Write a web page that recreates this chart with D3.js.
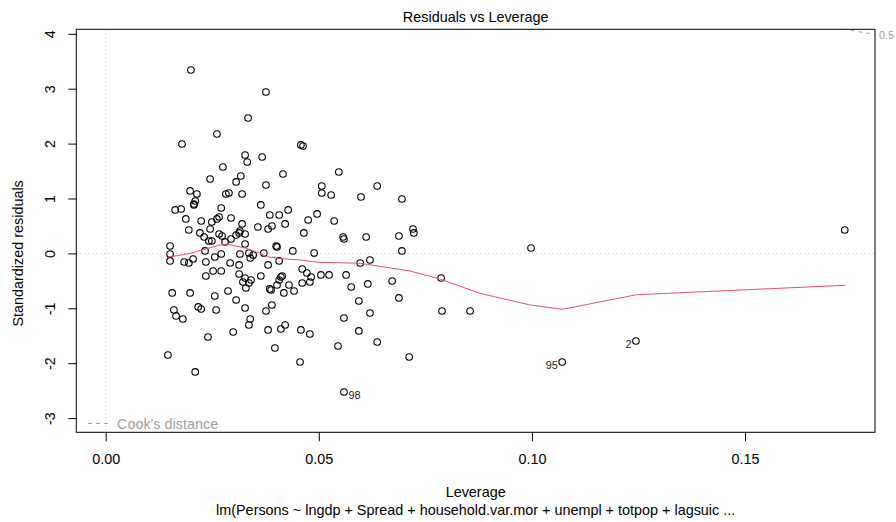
<!DOCTYPE html>
<html>
<head>
<meta charset="utf-8">
<script src="https://cdn.jsdelivr.net/npm/d3@7"></script>
<style>
  body { margin: 0; background: #fff; }
  svg text { font-family: "Liberation Sans", Arial, sans-serif; }
</style>
</head>
<body>
<svg id="chart"></svg>
<script>
// leverage / standardized residuals (first three are the labelled ones)
const idLabels = ["98", "95", "2"];
const leverage = [
  0.0559, 0.1071, 0.1244,
  0.0200, 0.0261, 0.0179, 0.0327, 0.0332, 0.0275, 0.0317, 0.0306, 0.0245, 0.0198, 0.0214, 0.0210, 0.0207, 0.0282, 0.0289, 0.0320,
  0.0376, 0.0334, 0.0458, 0.0463, 0.0367, 0.0416, 0.0547, 0.0376, 0.0507, 0.0507, 0.0529, 0.0637, 0.0599, 0.0695,
  0.0163, 0.0177, 0.0207, 0.0271, 0.0188, 0.0224, 0.0249, 0.0266, 0.0261, 0.0294, 0.0195, 0.0221, 0.0231, 0.0245, 0.0320, 0.0266, 0.0273, 0.0242, 0.0249, 0.0294,
  0.0313, 0.0315, 0.0327, 0.0280, 0.0151, 0.0233, 0.0306, 0.0327,
  0.0364, 0.0385, 0.0407, 0.0428, 0.0357, 0.0381, 0.0390, 0.0421, 0.0400, 0.0402, 0.0439, 0.0371, 0.0496, 0.0475, 0.0536, 0.0465, 0.0489, 0.0557, 0.0559, 0.0611,
  0.0688, 0.0721, 0.0723, 0.0695, 0.0998,
  0.0151, 0.0151, 0.0184, 0.0195, 0.0205, 0.0235, 0.0256, 0.0271, 0.0292, 0.0315, 0.0336, 0.0339, 0.0346, 0.0313, 0.0252, 0.0271, 0.0235, 0.0313, 0.0327, 0.0341,
  0.0336, 0.0322, 0.0329, 0.0156, 0.0198, 0.0287, 0.0256, 0.0306, 0.0217, 0.0224, 0.0259, 0.0327, 0.0160, 0.0165, 0.0181, 0.0339, 0.0336, 0.0299, 0.0240, 0.0146,
  0.0210,
  0.0381, 0.0407, 0.0364, 0.0385, 0.0388, 0.0402, 0.0411, 0.0407, 0.0414, 0.0418, 0.0442, 0.0430, 0.0390, 0.0376, 0.0381, 0.0411, 0.0421, 0.0397, 0.0456, 0.0458,
  0.0479, 0.0461, 0.0472, 0.0482, 0.0461, 0.0479, 0.0505, 0.0524, 0.0564, 0.0597, 0.0620, 0.0576, 0.0615, 0.0672, 0.0787, 0.0594, 0.0688, 0.0789, 0.0855, 0.0620,
  0.0559, 0.0594, 0.0545, 0.0637, 0.0712, 0.1734
];
const stdResid = [
  -2.525, -1.978, -1.596,
  3.341, 2.175, 1.993, 1.792, 1.665, 1.574, 1.410, 1.301, 1.355, 1.137, 1.082, 0.954, 0.882, 1.082, 1.100, 1.082,
  2.940, 2.466, 1.975, 1.956, 1.756, 1.446, 1.483, 1.246, 1.228, 1.100, 1.064, 1.228, 1.027, 0.991,
  0.791, 0.809, 0.900, 0.827, 0.627, 0.590, 0.572, 0.663, 0.627, 0.645, 0.426, 0.372, 0.299, 0.444, 0.536, 0.353, 0.317, 0.226, 0.226, 0.262,
  0.372, 0.408, 0.171, 0.208, 0.135, 0.044, 0.335, 0.353,
  0.882, 0.699, 0.699, 0.791, 0.481, 0.444, 0.499, 0.536, 0.135, 0.117, 0.044, 0.007, 0.718, 0.608, 0.590, 0.372, 0.007, 0.299, 0.262, 0.299,
  0.317, 0.444, 0.372, 0.044, 0.098,
  -0.011, -0.138, -0.157, -0.175, -0.102, -0.157, -0.066, -0.011, -0.175, -0.011, 0.007, -0.084, -0.029, -0.211, -0.321, -0.321, -0.412, -0.375, -0.448, -0.485,
  -0.539, -0.521, -0.630, -0.721, -0.721, -0.685, -0.776, -0.849, -0.976, -1.013, -1.031, -0.995, -1.031, -1.140, -1.195, -1.195, -1.304, -1.432, -1.523, -1.851,
  -2.160,
  -0.211, -0.138, -0.412, -0.648, -0.667, -0.576, -0.430, -0.485, -0.412, -0.721, -0.685, -0.576, -0.940, -1.049, -1.395, -1.377, -1.304, -1.723, -1.978, -1.395,
  -1.468, -0.284, -0.357, -0.430, -0.539, -0.521, -0.393, -0.393, -0.393, -0.175, -0.120, -0.612, -0.557, -0.503, -0.448, -0.867, -0.812, -1.049, -1.049, -1.086,
  -1.177, -1.413, -1.687, -1.614, -1.887, 0.426
];

// red smoother
const smoothLev = [0.0146, 0.0198, 0.0268, 0.0285, 0.0327, 0.0362, 0.0378, 0.0409, 0.0456, 0.0498, 0.0597, 0.0714, 0.0784, 0.0878, 0.0996, 0.1072, 0.1246, 0.1736];
const smoothRes = [-0.071, 0.000, 0.153, 0.166, 0.098, 0.002, -0.060, -0.093, -0.120, -0.162, -0.180, -0.321, -0.466, -0.727, -0.940, -1.018, -0.752, -0.581];

// cook's distance 0.5 contour (top right corner)
const cookLev = [0.1729, 0.1765, 0.1805];
const cookRes = [4.10, 4.04, 3.99];
const cookLabel = "0.5";

const xTicks = [0, 0.05, 0.10, 0.15];
const yTicks = [-3, -2, -1, 0, 1, 2, 3, 4];

const title = "Residuals vs Leverage";
const xTitle = "Leverage";
const subTitle = "lm(Persons ~ lngdp + Spread + household.var.mor + unempl + totpop + lagsuic ...";
const yTitle = "Standardized residuals";

const W = 896, H = 522;
const box = {left: 76.3, top: 29.3, right: 875, bottom: 432.3};

const svg = d3.select("#chart").attr("width", W).attr("height", H);

const x = d3.scaleLinear().domain([-0.0069, 0.1805]).range([box.left, box.right]);
const y = d3.scaleLinear().domain([-3.259, 4.082]).range([box.bottom, box.top]);

svg.append("defs").append("clipPath").attr("id", "clip")
  .append("rect")
  .attr("x", box.left).attr("y", box.top)
  .attr("width", box.right - box.left).attr("height", box.bottom - box.top);

const plot = svg.append("g").attr("clip-path", "url(#clip)");

// dotted reference lines
plot.append("line")
  .attr("x1", x(0)).attr("x2", x(0)).attr("y1", box.top).attr("y2", box.bottom)
  .attr("stroke", "#bebebe").attr("stroke-dasharray", "1,3");
plot.append("line")
  .attr("x1", box.left).attr("x2", box.right).attr("y1", y(0)).attr("y2", y(0))
  .attr("stroke", "#bebebe").attr("stroke-dasharray", "1,3");

const points = leverage.map((d, i) => ({lev: d, res: stdResid[i], id: idLabels[i]}));

plot.selectAll("circle.pt")
  .data(points)
  .join("circle")
  .attr("class", "pt")
  .attr("cx", d => x(d.lev))
  .attr("cy", d => y(d.res))
  .attr("r", 3.3)
  .attr("fill", "none")
  .attr("stroke", "#000")
  .attr("stroke-width", 1.1);

const line = d3.line().x(d => x(d[0])).y(d => y(d[1]));

plot.append("path")
  .datum(smoothLev.map((d, i) => [d, smoothRes[i]]))
  .attr("d", line)
  .attr("fill", "none")
  .attr("stroke", "#DF536B")
  .attr("stroke-width", 1);

plot.append("path")
  .datum(cookLev.map((d, i) => [d, cookRes[i]]))
  .attr("d", line)
  .attr("fill", "none")
  .attr("stroke", "#a0a0a0")
  .attr("stroke-dasharray", "4,4");

svg.append("text")
  .attr("x", box.right + 4)
  .attr("y", y(cookRes[cookRes.length - 1]) + 5)
  .attr("font-size", "10.8px")
  .attr("fill", "#a0a0a0")
  .text(cookLabel);

// point ids: right of the point on the left half, left of it on the right half
const midLev = (d3.min(leverage) + d3.max(leverage)) / 2;
svg.selectAll("text.id")
  .data(points.filter(d => d.id))
  .join("text")
  .attr("class", "id")
  .attr("x", d => x(d.lev) + (d.lev < midLev ? 4.5 : -4.5))
  .attr("y", d => y(d.res) + 7)
  .attr("text-anchor", d => d.lev < midLev ? "start" : "end")
  .attr("font-size", "10.8px")
  .attr("fill", "#222")
  .text(d => d.id);

// legend
svg.append("line")
  .attr("x1", 88).attr("x2", 112).attr("y1", 423.5).attr("y2", 423.5)
  .attr("stroke", "#a0a0a0").attr("stroke-dasharray", "4,4");
svg.append("text")
  .attr("x", 117).attr("y", 428.5)
  .attr("font-size", "14.4px").attr("fill", "#a0a0a0")
  .text("Cook's distance");

// box
svg.append("rect")
  .attr("x", box.left).attr("y", box.top)
  .attr("width", box.right - box.left).attr("height", box.bottom - box.top)
  .attr("fill", "none").attr("stroke", "#000").attr("stroke-width", 1);

// axes
const xaxis = d3.axisBottom(x).tickValues(xTicks).tickFormat(d3.format(".2f")).tickSize(9).tickPadding(12);
const xg = svg.append("g").attr("transform", `translate(0,${box.bottom})`).call(xaxis);
xg.select(".domain").remove();
xg.selectAll("text").attr("font-size", "14.4px").attr("fill", "#000");

const yaxis = d3.axisLeft(y).tickValues(yTicks).tickFormat(d => String(d)).tickSize(8);
const yg = svg.append("g").attr("transform", `translate(${box.left},0)`).call(yaxis);
yg.select(".domain").remove();
yg.selectAll("text")
  .attr("x", null).attr("dy", null)
  .attr("transform", "translate(-21.5,0) rotate(-90)")
  .attr("text-anchor", "middle")
  .attr("font-size", "14.4px").attr("fill", "#000");

svg.selectAll(".tick line").attr("stroke", "#000");
svg.selectAll(".tick text").attr("font-family", null);

// titles
svg.append("text")
  .attr("x", (box.left + box.right) / 2).attr("y", 22)
  .attr("text-anchor", "middle").attr("font-size", "14.4px")
  .text(title);
svg.append("text")
  .attr("x", (box.left + box.right) / 2).attr("y", 497)
  .attr("text-anchor", "middle").attr("font-size", "14.4px")
  .text(xTitle);
svg.append("text")
  .attr("x", (box.left + box.right) / 2).attr("y", 514.5)
  .attr("text-anchor", "middle").attr("font-size", "14.4px")
  .text(subTitle);
svg.append("text")
  .attr("transform", `translate(23,${y(0)}) rotate(-90)`)
  .attr("text-anchor", "middle").attr("font-size", "14.4px")
  .text(yTitle);
</script>
</body>
</html>
